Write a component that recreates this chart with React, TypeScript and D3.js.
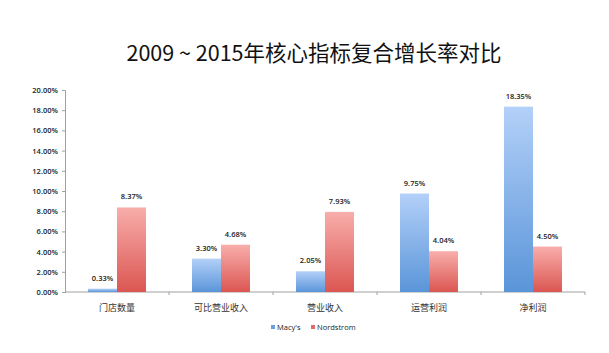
import { useEffect, useRef } from "react";
import * as d3 from "d3";

const categories = ["门店数量", "可比营业收入", "营业收入", "运营利润", "净利润"];
const seriesNames = ["Macy's", "Nordstrom"];
const macys = [0.33, 3.3, 2.05, 9.75, 18.35];
const nordstrom = [8.37, 4.68, 7.93, 4.04, 4.5];
const yTicks = [0, 2, 4, 6, 8, 10, 12, 14, 16, 18, 20];

const App = () => {
  const svgRef = useRef<SVGSVGElement | null>(null);

  useEffect(() => {
    const width = 609;
    const height = 353;
    const margin = { top: 90, right: 24, bottom: 61, left: 65 };
    const chartWidth = width - margin.left - margin.right;
    const chartHeight = height - margin.top - margin.bottom;

    const svg = d3.select(svgRef.current);
    svg.selectAll("*").remove();

    const defs = svg.append("defs");
    const grads = [
      { id: "gBlue", top: "#b3d0f8", bottom: "#5a95d9" },
      { id: "gRed", top: "#f8aeab", bottom: "#db5652" },
    ];
    grads.forEach((g) => {
      const lg = defs
        .append("linearGradient")
        .attr("id", g.id)
        .attr("x1", 0)
        .attr("y1", 0)
        .attr("x2", 0)
        .attr("y2", 1);
      lg.append("stop").attr("offset", "0%").attr("stop-color", g.top);
      lg.append("stop").attr("offset", "100%").attr("stop-color", g.bottom);
    });

    // title
    svg
      .append("text")
      .attr("x", 314)
      .attr("y", 61)
      .attr("text-anchor", "middle")
      .attr("font-family", "'Noto Sans CJK SC', 'Noto Sans', sans-serif")
      .attr("font-size", 21.5)
      .attr("fill", "#111")
      .text("2009 ~ 2015年核心指标复合增长率对比");

    const chart = svg
      .append("g")
      .attr("transform", `translate(${margin.left},${margin.top})`);

    const x0 = d3.scaleBand().domain(categories).range([0, chartWidth]);
    const x1 = d3
      .scaleBand()
      .domain(seriesNames)
      .range([0, 58])
      .padding(0);
    const y = d3.scaleLinear().domain([0, 20]).range([chartHeight, 0]);

    // y axis
    const yAxis = d3
      .axisLeft(y)
      .tickValues(yTicks)
      .tickSize(3)
      .tickFormat((d) => (d as number).toFixed(2) + "%");
    const yg = chart.append("g").call(yAxis);
    yg.select(".domain").attr("stroke", "#a0a0a0");
    yg.selectAll(".tick line").attr("stroke", "#a0a0a0");
    yg.selectAll(".tick text")
      .attr("font-family", "'Open Sans', 'DejaVu Sans', sans-serif")
      .attr("font-size", 7.5)
      .attr("font-weight", 600)
      .attr("fill", "#222")
      .attr("x", -7);

    // x axis
    const xg = chart.append("g").attr("transform", `translate(0,${chartHeight})`);
    xg.append("line")
      .attr("x1", 0)
      .attr("x2", chartWidth)
      .attr("stroke", "#a0a0a0");
    categories.forEach((c) => {
      xg.append("line")
        .attr("x1", (x0(c) || 0) + x0.bandwidth())
        .attr("x2", (x0(c) || 0) + x0.bandwidth())
        .attr("y1", 0)
        .attr("y2", 3)
        .attr("stroke", "#a0a0a0");
      xg.append("text")
        .attr("x", (x0(c) || 0) + x0.bandwidth() / 2)
        .attr("y", 19)
        .attr("text-anchor", "middle")
        .attr("font-family", "'Noto Sans CJK SC', sans-serif")
        .attr("font-size", 9)
        .attr("fill", "#333")
        .text(c);
    });

    // bars
    const series = [
      { name: seriesNames[0], values: macys, fill: "url(#gBlue)" },
      { name: seriesNames[1], values: nordstrom, fill: "url(#gRed)" },
    ];
    series.forEach((s) => {
      categories.forEach((c, i) => {
        const bx = (x0(c) || 0) + (x0.bandwidth() - 58) / 2 + (x1(s.name) || 0);
        const v = s.values[i];
        chart
          .append("rect")
          .attr("x", bx)
          .attr("y", y(v))
          .attr("width", x1.bandwidth())
          .attr("height", chartHeight - y(v))
          .attr("fill", s.fill);
        chart
          .append("text")
          .attr("x", bx + x1.bandwidth() / 2)
          .attr("y", y(v) - 8)
          .attr("text-anchor", "middle")
          .attr("font-family", "'Open Sans', 'DejaVu Sans', sans-serif")
          .attr("font-size", 7.5)
          .attr("font-weight", 600)
          .attr("fill", "#222")
          .text(v.toFixed(2) + "%");
      });
    });

    // legend
    const legend = svg.append("g").attr("transform", "translate(271,328)");
    const legendX = [0, 40];
    series.forEach((s, i) => {
      legend
        .append("rect")
        .attr("x", legendX[i])
        .attr("y", -3)
        .attr("width", 4)
        .attr("height", 4)
        .attr("fill", i === 0 ? "#6aa0e0" : "#e06a66");
      legend
        .append("text")
        .attr("x", legendX[i] + 6)
        .attr("y", 2)
        .attr("font-family", "'Open Sans', 'DejaVu Sans', sans-serif")
        .attr("font-size", 7.5)
        .attr("fill", "#222")
        .text(s.name);
    });
  }, []);

  return (
    <svg
      ref={svgRef}
      width={609}
      height={353}
      style={{ position: "absolute", left: 0, top: 0, background: "#fff" }}
    ></svg>
  );
};

export default App;
